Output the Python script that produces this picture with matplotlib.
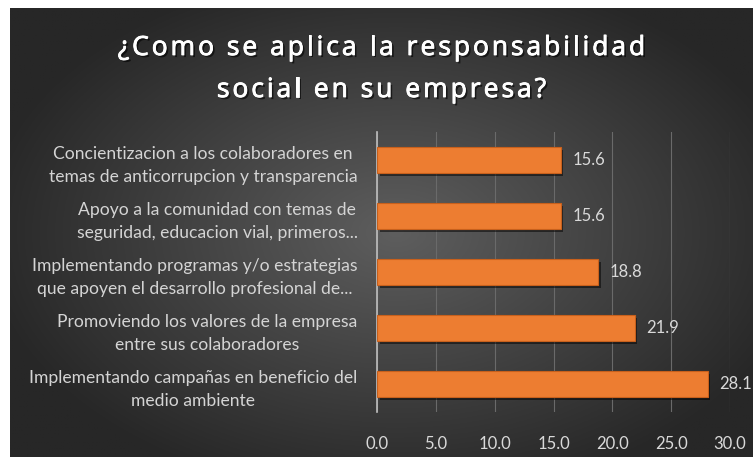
import numpy as np
import matplotlib
matplotlib.use("Agg")
import matplotlib.pyplot as plt
import matplotlib.patheffects as pe
from matplotlib.font_manager import FontProperties

categories = [
    "Concientizacion a los colaboradores en\ntemas de anticorrupcion y transparencia",
    "Apoyo a la comunidad con temas de\nseguridad, educacion vial, primeros...",
    "Implementando programas y/o estrategias\nque apoyen el desarrollo profesional de...",
    "Promoviendo los valores de la empresa\nentre sus colaboradores",
    "Implementando campañas en beneficio del\nmedio ambiente",
]
values = [15.6, 15.6, 18.8, 21.9, 28.1]
xticks = [0, 5, 10, 15, 20, 25, 30]

title_lines = ["¿Como se aplica la responsabilidad", "social en su empresa?"]

W, H = 753, 457
fig = plt.figure(figsize=(W / 100, H / 100), dpi=100)
fig.patch.set_facecolor("white")

# dark radial gradient background (white strip on top/left like the source)
bg = fig.add_axes([10 / W, 0, (W - 10) / W, (H - 8) / H])
bg.set_axis_off()
yy, xx = np.mgrid[0:1:300j, 0:1:500j]
r = np.sqrt(((xx - 0.52) / 0.75) ** 2 + ((yy - 0.5) / 0.8) ** 2)
r = np.clip(r / 0.75, 0, 1)
inner = np.array([0x5e, 0x5e, 0x5e]) / 255
outer = np.array([0x27, 0x27, 0x27]) / 255
img = inner[None, None, :] * (1 - r[..., None]) + outer[None, None, :] * r[..., None]
bg.imshow(img, aspect="auto", extent=[0, 1, 0, 1], origin="lower")

ax = fig.add_axes([377 / W, 1 - 412 / H, (730 - 377) / W, (412 - 132) / H])
ax.patch.set_alpha(0)

y = np.arange(len(categories))
bars = ax.barh(y, values, height=0.46, color="#ED7D31", edgecolor="#c8601c",
               linewidth=0.8, zorder=3)
for b in bars:
    b.set_path_effects([pe.SimplePatchShadow(offset=(2, -2), alpha=0.5,
                                              shadow_rgbFace="black"),
                        pe.Normal()])

for yi, v in zip(y, values):
    ax.text(v + 1.0, yi, f"{v:.1f}", va="center", ha="left",
            color="#d9d9d9", fontsize=12, family="Lato")

ax.set_yticks(y)
ax.set_yticklabels(categories, color="#d4d4d4", fontsize=12.6, family="Lato",
                   multialignment="center", linespacing=1.6)
ax.set_ylim(len(categories) - 0.5, -0.5)
ax.set_xlim(0, 30)
ax.set_xticks(xticks)
ax.set_xticklabels([f"{t:.1f}" for t in xticks], color="#d9d9d9",
                   fontsize=12, family="Lato")
ax.tick_params(axis="both", length=0)
ax.tick_params(axis="y", pad=14)
ax.tick_params(axis="x", pad=17)

ax.grid(axis="x", color="#6a6a6a", linewidth=0.8, zorder=0)
for s in ["top", "right", "bottom"]:
    ax.spines[s].set_visible(False)
ax.spines["left"].set_color("#bfbfbf")
ax.spines["left"].set_linewidth(1.2)

# title drawn letter by letter to get the wide tracking of the original
fp = FontProperties(family="Open Sans", size=19)
renderer = fig.canvas.get_renderer()
def char_w(c):
    return renderer.get_text_width_height_descent(c, fp, ismath=False)[0]
track = 3.0  # extra px between letters
shadow = [pe.withSimplePatchShadow(offset=(1.5, -1.5), alpha=0.6,
                                   shadow_rgbFace="black"),
          pe.withStroke(linewidth=0.6, foreground="white")]
cx = 10 + (W - 10) / 2
for line, base in zip(title_lines, [55, 97]):
    widths = [char_w(c) + track for c in line]
    x = cx - (sum(widths) - track) / 2
    for c, w in zip(line, widths):
        fig.text(x / W, 1 - base / H, c, ha="left", va="baseline",
                 color="white", fontproperties=fp, path_effects=shadow)
        x += w

fig.savefig("out.png", dpi=100, facecolor=fig.get_facecolor())
